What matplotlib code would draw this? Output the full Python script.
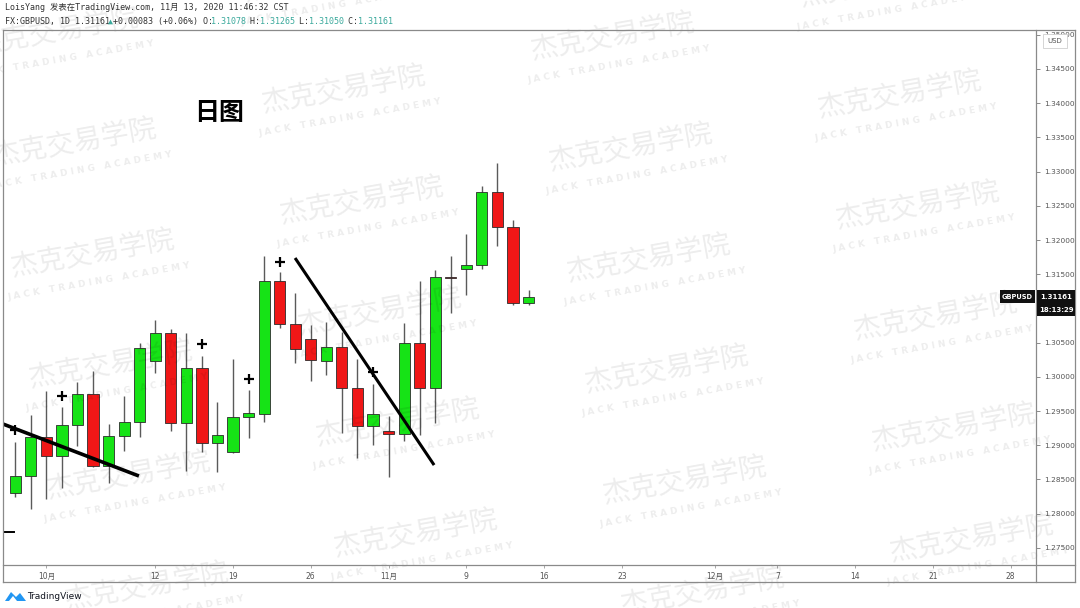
import matplotlib
matplotlib.use("Agg")
import matplotlib.pyplot as plt
from matplotlib.patches import Rectangle, Polygon
from matplotlib.lines import Line2D

# ---------------- data ----------------
dates = ["9/29", "9/30", "10/1", "10/2", "10/5", "10/6", "10/7", "10/8", "10/9",
         "10/12", "10/13", "10/14", "10/15", "10/16", "10/19", "10/20", "10/21",
         "10/22", "10/23", "10/26", "10/27", "10/28", "10/29", "10/30", "11/2",
         "11/3", "11/4", "11/5", "11/6", "11/9", "11/10", "11/11", "11/12", "11/13"]
opens = [1.28301, 1.28550, 1.29120, 1.28842, 1.29300, 1.29748, 1.28696, 1.29134, 1.29339,
         1.30231, 1.30640, 1.29325, 1.30129, 1.29032, 1.28901, 1.29412, 1.29456,
         1.31401, 1.30772, 1.30553, 1.30231, 1.30436, 1.29836, 1.29281, 1.29208,
         1.29164, 1.30494, 1.29836, 1.31459, 1.31576, 1.31634, 1.32702, 1.32190, 1.31078]
highs = [1.29047, 1.29441, 1.29792, 1.29558, 1.29924, 1.30085, 1.29310, 1.29719, 1.30494,
         1.30830, 1.30699, 1.30640, 1.30304, 1.29632, 1.30260, 1.29807, 1.31766,
         1.31532, 1.31225, 1.30757, 1.30801, 1.30655, 1.30260, 1.29895, 1.29427,
         1.30787, 1.31401, 1.31561, 1.31766, 1.32088, 1.32789, 1.33126, 1.32292, 1.31265]
lows = [1.28243, 1.28067, 1.28213, 1.28374, 1.28988, 1.28680, 1.28447, 1.28915, 1.29120,
        1.30056, 1.29208, 1.28623, 1.28901, 1.28608, 1.28890, 1.29105, 1.29339,
        1.30713, 1.30202, 1.29939, 1.30026, 1.29178, 1.28813, 1.29003, 1.28535,
        1.29061, 1.29149, 1.29325, 1.30933, 1.31196, 1.31576, 1.31912, 1.31050, 1.31050]
closes = [1.28550, 1.29120, 1.28842, 1.29295, 1.29748, 1.28696, 1.29134, 1.29339, 1.30421,
          1.30640, 1.29325, 1.30129, 1.29032, 1.29149, 1.29412, 1.29471, 1.31401,
          1.30772, 1.30406, 1.30246, 1.30436, 1.29836, 1.29281, 1.29456, 1.29164,
          1.30494, 1.29836, 1.31459, 1.31444, 1.31634, 1.32702, 1.32190, 1.31079, 1.31161]

# "+" markers (bar index, price)
plus_idx = [0, 3, 12, 15, 17, 23]
plus_price = [1.29222, 1.29719, 1.30479, 1.29968, 1.31678, 1.30070]

# hand-drawn trend lines (bar index, price)
trend1_x = [-0.79, 7.95]
trend1_y = [1.29310, 1.28550]
trend2_x = [17.99, 26.93]
trend2_y = [1.31737, 1.28710]
dash_x = [-0.79, -0.09]
dash_y = [1.27731, 1.27731]

# axis ticks
date_tick_pos = [2, 9, 14, 19, 24, 29, 34, 39, 45, 49, 54, 59, 64]
date_tick_labels = ["10月", "12", "19", "26", "11月", "9", "16", "23", "12月", "7", "14", "21", "28"]
price_ticks = [1.275, 1.280, 1.285, 1.290, 1.295, 1.300, 1.305, 1.310, 1.315,
               1.320, 1.325, 1.330, 1.335, 1.340, 1.345, 1.350]
last_price = 1.31161

# ---------------- figure ----------------
W, H = 1080, 608
fig = plt.figure(figsize=(W / 100, H / 100), dpi=100)
fig.patch.set_facecolor("white")

def fx(px):
    return px / W

def fy(py):
    return 1 - py / H

L_, R_, T_, B_ = 3, 1036, 30, 565
ax = fig.add_axes([fx(L_), fy(B_), (R_ - L_) / W, (B_ - T_) / H])
ax.set_xlim(-0.79, 65.63)
ax.set_ylim(1.27249, 1.35070)
for s in ax.spines.values():
    s.set_visible(False)

GREEN = "#16e316"
RED = "#f01717"
EDGE = "#2b2b2b"
WICK = "#5a5a5a"

for i, (o, h, l, c) in enumerate(zip(opens, highs, lows, closes)):
    ax.vlines(i, l, h, color=WICK, lw=1.0, zorder=2)
    col = GREEN if c >= o else RED
    ax.bar(i, max(abs(c - o), 0.00006), bottom=min(o, c), width=0.72,
           color=col, edgecolor=EDGE, linewidth=0.6, zorder=3)

ax.plot(plus_idx, plus_price, ls="none", marker="+", ms=7, mew=1.6, color="black", zorder=4)
ax.plot(trend1_x, trend1_y, color="black", lw=2.6, solid_capstyle="butt", zorder=5)
ax.plot(trend2_x, trend2_y, color="black", lw=2.2, solid_capstyle="butt", zorder=5)
ax.plot(dash_x, dash_y, color="black", lw=1.4, zorder=5)

# price axis on the right
ax.yaxis.tick_right()
ax.set_yticks(price_ticks)
ax.set_yticklabels([f"{v:.5f}" for v in price_ticks])
ax.tick_params(axis="y", direction="out", length=3, width=0.6, color="#777",
               labelsize=5.3, labelcolor="#555", pad=3)

# time axis
ax.set_xticks(date_tick_pos)
ax.set_xticklabels(date_tick_labels)
for t in ax.get_xticklabels():
    t.set_fontfamily(["DejaVu Sans", "Noto Sans CJK SC"])
ax.tick_params(axis="x", direction="out", length=2, width=0.6, color="#999",
               labelsize=5.5, labelcolor="#555", pad=3)

# frame
def fline(x0, y0, x1, y1, c="#8a8a8a", lw=0.9):
    fig.add_artist(Line2D([fx(x0), fx(x1)], [fy(y0), fy(y1)], color=c, lw=lw, zorder=6))

fline(3, 30, 1075, 30)
fline(3, 582, 1075, 582)
fline(3, 30, 3, 582)
fline(1075, 30, 1075, 582)
fline(1036, 30, 1036, 582)
fline(3, 565, 1075, 565)

def frect(x0, y0, x1, y1, fc, ec="none", lw=0.0, z=7):
    fig.add_artist(Rectangle((fx(x0), fy(y1)), (x1 - x0) / W, (y1 - y0) / H,
                             facecolor=fc, edgecolor=ec, lw=lw, zorder=z))

# USD box
frect(1043, 34, 1067, 48, "white", ec="#cfcfcf", lw=0.6)
fig.text(fx(1055), fy(41), "USD", fontsize=5, color="#555", ha="center", va="center", zorder=8)

# last price labels
frect(1000, 290, 1035, 303, "#111111")
frect(1037, 290, 1075, 303, "#111111")
frect(1037, 303, 1075, 316, "#111111")
fig.text(fx(1017.5), fy(296.8), "GBPUSD", fontsize=4.8, color="white", weight="bold",
         ha="center", va="center", zorder=8)
fig.text(fx(1056), fy(296.6), f"{last_price:.5f}", fontsize=5.0, color="white", weight="bold",
         ha="center", va="center", zorder=8)
fig.text(fx(1056), fy(310.0), "18:13:29", fontsize=5.0, color="white", weight="bold",
         ha="center", va="center", zorder=8)

# header
mono = ["DejaVu Sans Mono", "Noto Sans CJK SC"]
fig.text(fx(5), fy(7.5), "LoisYang 发表在TradingView.com, 11月 13, 2020 11:46:32 CST",
         fontsize=6, family=mono, color="#333", ha="left", va="center")
TEAL = "#3aa99c"
DARK = "#333333"
segs = [("FX:GBPUSD, 1D 1.31161", DARK), ("▲", TEAL), ("+0.00083 (+0.06%) O:", DARK),
        ("1.31078", TEAL), (" H:", DARK), ("1.31265", TEAL), (" L:", DARK),
        ("1.31050", TEAL), (" C:", DARK), ("1.31161", TEAL)]
cx = 5.0
for s, c in segs:
    fig.text(fx(cx), fy(21.5), s, fontsize=6, family=mono, color=c, ha="left", va="center")
    cx += len(s) * 4.9

# title on chart
fig.text(fx(219), fy(113), "日图", fontsize=18, weight="bold", family=["Noto Sans CJK SC"],
         color="black", ha="center", va="center", zorder=8)

# watermarks
base = (344, 90)
v1 = (287, 58)
v2 = (18, 111)
for a in range(-3, 5):
    for b in range(-3, 8):
        x = base[0] + a * v1[0] + b * v2[0]
        y = base[1] + a * v1[1] + b * v2[1]
        if -200 < x < 1300 and -70 < y < 690:
            fig.text(fx(x), fy(y), "杰克交易学院", fontsize=20, family=["Noto Sans CJK SC"],
                     color="black", alpha=0.075, rotation=10, rotation_mode="anchor",
                     ha="center", va="center", zorder=1)
            fig.text(fx(x + 6), fy(y + 27), "J A C K   T R A D I N G   A C A D E M Y",
                     fontsize=6.5, weight="bold", color="black", alpha=0.075,
                     rotation=10, rotation_mode="anchor", ha="center", va="center", zorder=1)

# TradingView logo
cloud1 = [(5, 601), (11, 592), (16, 597), (20, 593), (26, 601)]
for pts, col in [(cloud1, "#2196f3")]:
    fig.add_artist(Polygon([(fx(px), fy(py)) for px, py in pts], closed=True,
                           facecolor=col, edgecolor="none", zorder=8))
fig.add_artist(Polygon([(fx(px), fy(py)) for px, py in [(9, 601), (13, 596), (17, 601)]],
                       closed=True, facecolor="white", edgecolor="none", zorder=9))
fig.text(fx(27), fy(596.5), "TradingView", fontsize=6.5, color="#131722",
         ha="left", va="center")

fig.savefig("out.png", dpi=100, facecolor="white")
